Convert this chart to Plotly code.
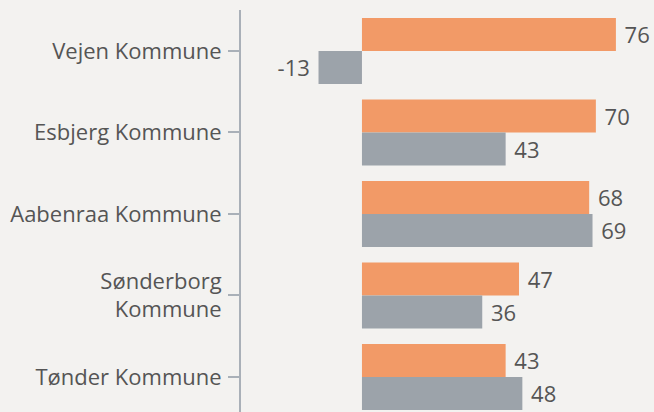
import plotly.graph_objects as go

categories = ["Vejen Kommune", "Esbjerg Kommune", "Aabenraa Kommune", "Sønderborg<br>Kommune", "Tønder Kommune"]
series_a = [76, 70, 68, 47, 43]
series_b = [-13, 43, 69, 36, 48]

orange = "#F29A67"
gray = "#9CA3AA"
txt = "#555555"
bg = "#F3F2F0"
font_family = "Open Sans, Noto Sans, sans-serif"
NBSP = "\u00a0"


def label(v):
    return f"{NBSP}{v}" if v >= 0 else f"{v}{NBSP}"


fig = go.Figure()
fig.add_trace(go.Bar(y=categories, x=series_a, orientation="h", marker=dict(color=orange, line=dict(width=0)),
                     text=[label(v) for v in series_a], textposition="outside", cliponaxis=False,
                     textfont=dict(size=22, color=txt, family=font_family), name="A"))
fig.add_trace(go.Bar(y=categories, x=series_b, orientation="h", marker=dict(color=gray, line=dict(width=0)),
                     text=[label(v) for v in series_b], textposition="outside", cliponaxis=False,
                     textfont=dict(size=22, color=txt, family=font_family), name="B"))

fig.update_layout(
    width=654, height=412,
    margin=dict(l=241, r=0, t=10, b=0, pad=0),
    paper_bgcolor=bg, plot_bgcolor=bg,
    barmode="group", bargap=0.19, bargroupgap=0,
    showlegend=False,
    font=dict(family=font_family, color=txt, size=22),
    xaxis=dict(range=[-36.2, 87.4], visible=False, showgrid=False, zeroline=False),
    yaxis=dict(type="category", range=[4.43, -0.503], showgrid=False, zeroline=False,
               showline=True, linecolor="#A9B0B8", linewidth=2,
               ticks="outside", ticklen=11, tickcolor="#A9B0B8", tickwidth=2,
               tickfont=dict(size=22, color=txt, family=font_family), ticklabelstandoff=2),
)

fig.write_html("out.html", config={"displayModeBar": False},
               post_script="document.body.style.margin='0';document.body.style.background='#F3F2F0';")
